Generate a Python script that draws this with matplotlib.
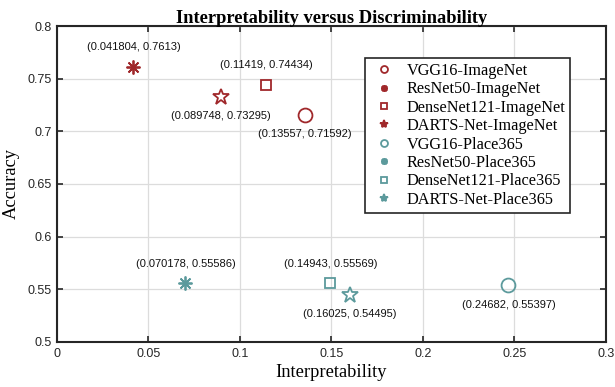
import matplotlib.pyplot as plt

# data
names = ['VGG16', 'ResNet50', 'DenseNet121', 'DARTS-Net']
interp_imagenet = [0.13557, 0.041804, 0.11419, 0.089748]
acc_imagenet = [0.71592, 0.7613, 0.74434, 0.73295]
interp_place = [0.24682, 0.070178, 0.14943, 0.16025]
acc_place = [0.55397, 0.55586, 0.55569, 0.54495]
side_imagenet = ['below', 'above', 'above', 'below']
side_place = ['below', 'above', 'above', 'below']

red = '#A0282B'
teal = '#5C9A9C'
markers = ['o', (8, 2, 0), 's', '*']
msizes = [10, 10, 7.5, 12]

plt.rcParams['font.family'] = ['Liberation Sans', 'DejaVu Sans']
serif = 'Liberation Serif'

fig = plt.figure(figsize=(6.15, 3.87), dpi=100)
ax = fig.add_axes([0.0927, 0.1163, 0.8923, 0.8165])


def draw(xs, ys, sides, color, dataset):
    for i in range(len(names)):
        ax.plot(xs[i], ys[i], linestyle='none', marker=markers[i],
                markersize=msizes[i], markerfacecolor='none',
                markeredgecolor=color, markeredgewidth=1.3,
                label=names[i] + '-' + dataset, zorder=3)
        dy = 14 if sides[i] == 'above' else -14
        ax.annotate('({:.5g}, {:.5g})'.format(xs[i], ys[i]), (xs[i], ys[i]),
                    xytext=(0, dy), textcoords='offset points',
                    ha='center', va='center', fontsize=8, color='#111111')


draw(interp_imagenet, acc_imagenet, side_imagenet, red, 'ImageNet')
draw(interp_place, acc_place, side_place, teal, 'Place365')

ax.set_xlim(0, 0.3)
ax.set_ylim(0.5, 0.8)
ax.set_xticks([0, 0.05, 0.1, 0.15, 0.2, 0.25, 0.3])
ax.set_xticklabels(['0', '0.05', '0.1', '0.15', '0.2', '0.25', '0.3'])
ax.set_yticks([0.5, 0.55, 0.6, 0.65, 0.7, 0.75, 0.8])
ax.set_yticklabels(['0.5', '0.55', '0.6', '0.65', '0.7', '0.75', '0.8'])
ax.tick_params(direction='in', top=True, right=True, labelsize=9,
               length=4, width=1.2, color='#262626', labelcolor='#262626',
               pad=4)
ax.grid(True, color='#dcdcdc', linewidth=0.9)
ax.set_axisbelow(True)
for s in ax.spines.values():
    s.set_linewidth(1.5)
    s.set_color('#262626')

ax.set_title('Interpretability versus Discriminability', family=serif,
             fontweight='bold', fontsize=13.3, pad=2)
ax.set_xlabel('Interpretability', family=serif, fontsize=13.3, labelpad=3)
ax.set_ylabel('Accuracy', family=serif, fontsize=13.3, labelpad=5)

leg = ax.legend(loc='upper left', bbox_to_anchor=(0.562, 0.9),
                prop={'family': serif, 'size': 11.7}, markerscale=0.5,
                fancybox=False, framealpha=1, edgecolor='#262626',
                labelspacing=0.15, handletextpad=0.6, borderpad=0.32,
                handlelength=1.6, borderaxespad=0)
leg.get_frame().set_linewidth(1.2)
for h, c in zip(leg.legend_handles, [red] * 4 + [teal] * 4):
    if h.get_marker() == '*':
        h.set_markerfacecolor(c)

fig.savefig('out.png', dpi=100)
